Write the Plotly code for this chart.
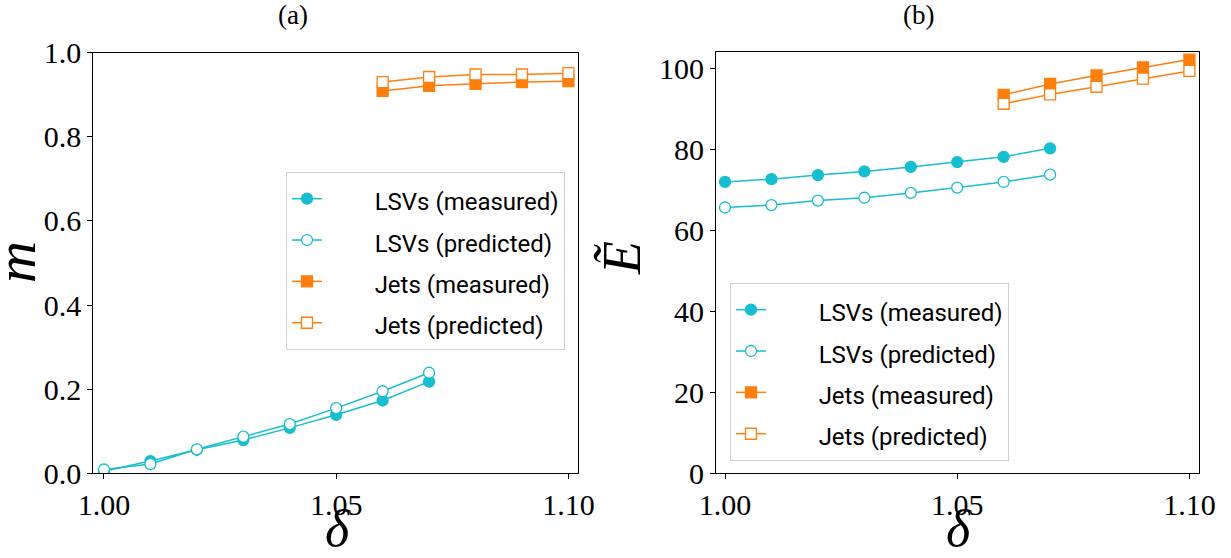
import plotly.graph_objects as go

# ---------------- data ----------------
delta_lsv = [1.00, 1.01, 1.02, 1.03, 1.04, 1.05, 1.06, 1.07]
delta_jet = [1.06, 1.07, 1.08, 1.09, 1.10]

m_lsv_measured = [0.005, 0.029, 0.056, 0.079, 0.108, 0.139, 0.173, 0.218]
m_lsv_predicted = [0.009, 0.022, 0.057, 0.087, 0.117, 0.155, 0.195, 0.239]
m_jet_measured = [0.909, 0.921, 0.926, 0.930, 0.932]
m_jet_predicted = [0.930, 0.942, 0.948, 0.948, 0.951]

E_lsv_measured = [71.9, 72.6, 73.6, 74.5, 75.6, 76.8, 78.1, 80.2]
E_lsv_predicted = [65.6, 66.2, 67.3, 68.0, 69.2, 70.5, 71.9, 73.7]
E_jet_measured = [93.4, 96.1, 98.2, 100.2, 102.1]
E_jet_predicted = [91.2, 93.5, 95.4, 97.4, 99.3]

names = ["LSVs (measured)", "LSVs (predicted)", "Jets (measured)", "Jets (predicted)"]
x_ticks = [1.00, 1.05, 1.10]
x_ticktext = ["1.00", "1.05", "1.10"]
m_ticks = [0.0, 0.2, 0.4, 0.6, 0.8, 1.0]
m_ticktext = ["0.0", "0.2", "0.4", "0.6", "0.8", "1.0"]
E_ticks = [0, 20, 40, 60, 80, 100]
E_ticktext = ["0", "20", "40", "60", "80", "100"]

# ---------------- style ----------------
W, H = 1231, 558
CYAN = "#17becf"
ORANGE = "#ff7f0e"
SERIF = "Liberation Serif"
SANS = "Roboto"
PAD = "&nbsp;" * 8


def px_x(p):
    return p / W


def px_y(p):
    return 1 - p / H


fig = go.Figure()


def add_series(x, y, name, color, symbol, filled, xa, ya, legend):
    fig.add_trace(go.Scatter(
        x=x, y=y,
        name='<span style="font-size:24px">' + PAD + name + '</span>',
        mode="lines+markers",
        line=dict(color=color, width=1.5),
        marker=dict(symbol=symbol, size=11,
                    color=color if filled else "white",
                    line=dict(color=color, width=1.3)),
        xaxis=xa, yaxis=ya, legend=legend,
    ))


add_series(delta_lsv, m_lsv_measured, names[0], CYAN, "circle", True, "x", "y", "legend")
add_series(delta_lsv, m_lsv_predicted, names[1], CYAN, "circle", False, "x", "y", "legend")
add_series(delta_jet, m_jet_measured, names[2], ORANGE, "square", True, "x", "y", "legend")
add_series(delta_jet, m_jet_predicted, names[3], ORANGE, "square", False, "x", "y", "legend")

add_series(delta_lsv, E_lsv_measured, names[0], CYAN, "circle", True, "x2", "y2", "legend2")
add_series(delta_lsv, E_lsv_predicted, names[1], CYAN, "circle", False, "x2", "y2", "legend2")
add_series(delta_jet, E_jet_measured, names[2], ORANGE, "square", True, "x2", "y2", "legend2")
add_series(delta_jet, E_jet_predicted, names[3], ORANGE, "square", False, "x2", "y2", "legend2")

axis_common = dict(
    showline=True, mirror=True, linecolor="black", linewidth=1.2,
    ticks="outside", ticklen=5, tickwidth=1, tickcolor="black",
    showgrid=False, zeroline=False, automargin=False,
    tickfont=dict(family=SERIF, size=30, color="black"),
)

legend_common = dict(
    bgcolor="white", bordercolor="#d0d0d0", borderwidth=1,
    font=dict(family=SANS, size=29.5, color="black"),
    xanchor="left", yanchor="top", tracegroupgap=0,
    itemsizing="trace",
)

fig.update_layout(
    width=W, height=H,
    margin=dict(l=0, r=0, t=0, b=0),
    paper_bgcolor="white", plot_bgcolor="white",
    showlegend=True,
    xaxis=dict(domain=[px_x(93.3), px_x(577.7)], range=[0.9977, 1.1020],
               tickvals=x_ticks, ticktext=x_ticktext, anchor="y", **axis_common),
    yaxis=dict(domain=[px_y(473.3), px_y(52.6)], range=[0, 1],
               tickvals=m_ticks, ticktext=m_ticktext, anchor="x", **axis_common),
    xaxis2=dict(domain=[px_x(716), px_x(1198.7)], range=[0.99806, 1.1020],
                tickvals=x_ticks, ticktext=x_ticktext, anchor="y2", **axis_common),
    yaxis2=dict(domain=[px_y(473.3), px_y(52.3)], range=[0, 103.9],
                tickvals=E_ticks, ticktext=E_ticktext, anchor="x2", **axis_common),
    legend=dict(x=px_x(286), y=px_y(172), **legend_common),
    legend2=dict(x=px_x(730), y=px_y(283), **legend_common),
)

annotations = [
    dict(text="(a)", x=px_x(293), y=px_y(15), font=dict(family=SERIF, size=27)),
    dict(text="(b)", x=px_x(918), y=px_y(15), font=dict(family=SERIF, size=27)),
    dict(text="<i>m</i>", x=px_x(15), y=px_y(262), textangle=-90,
         font=dict(family=SERIF, size=58)),
    dict(text="<i>Ẽ</i>", x=px_x(622), y=px_y(258), textangle=-90,
         font=dict(family=SERIF, size=54)),
    dict(text="<i>δ</i>", x=px_x(337), y=px_y(528), font=dict(family=SERIF, size=52)),
    dict(text="<i>δ</i>", x=px_x(958), y=px_y(528), font=dict(family=SERIF, size=52)),
]
for a in annotations:
    a.update(xref="paper", yref="paper", showarrow=False,
             xanchor="center", yanchor="middle")
    a["font"]["color"] = "black"
fig.update_layout(annotations=annotations)

# the page's default 8px body margin would shift the whole figure; remove it
fig.write_html("out.html", config={"displayModeBar": False},
               post_script="document.body.style.margin='0px';")
